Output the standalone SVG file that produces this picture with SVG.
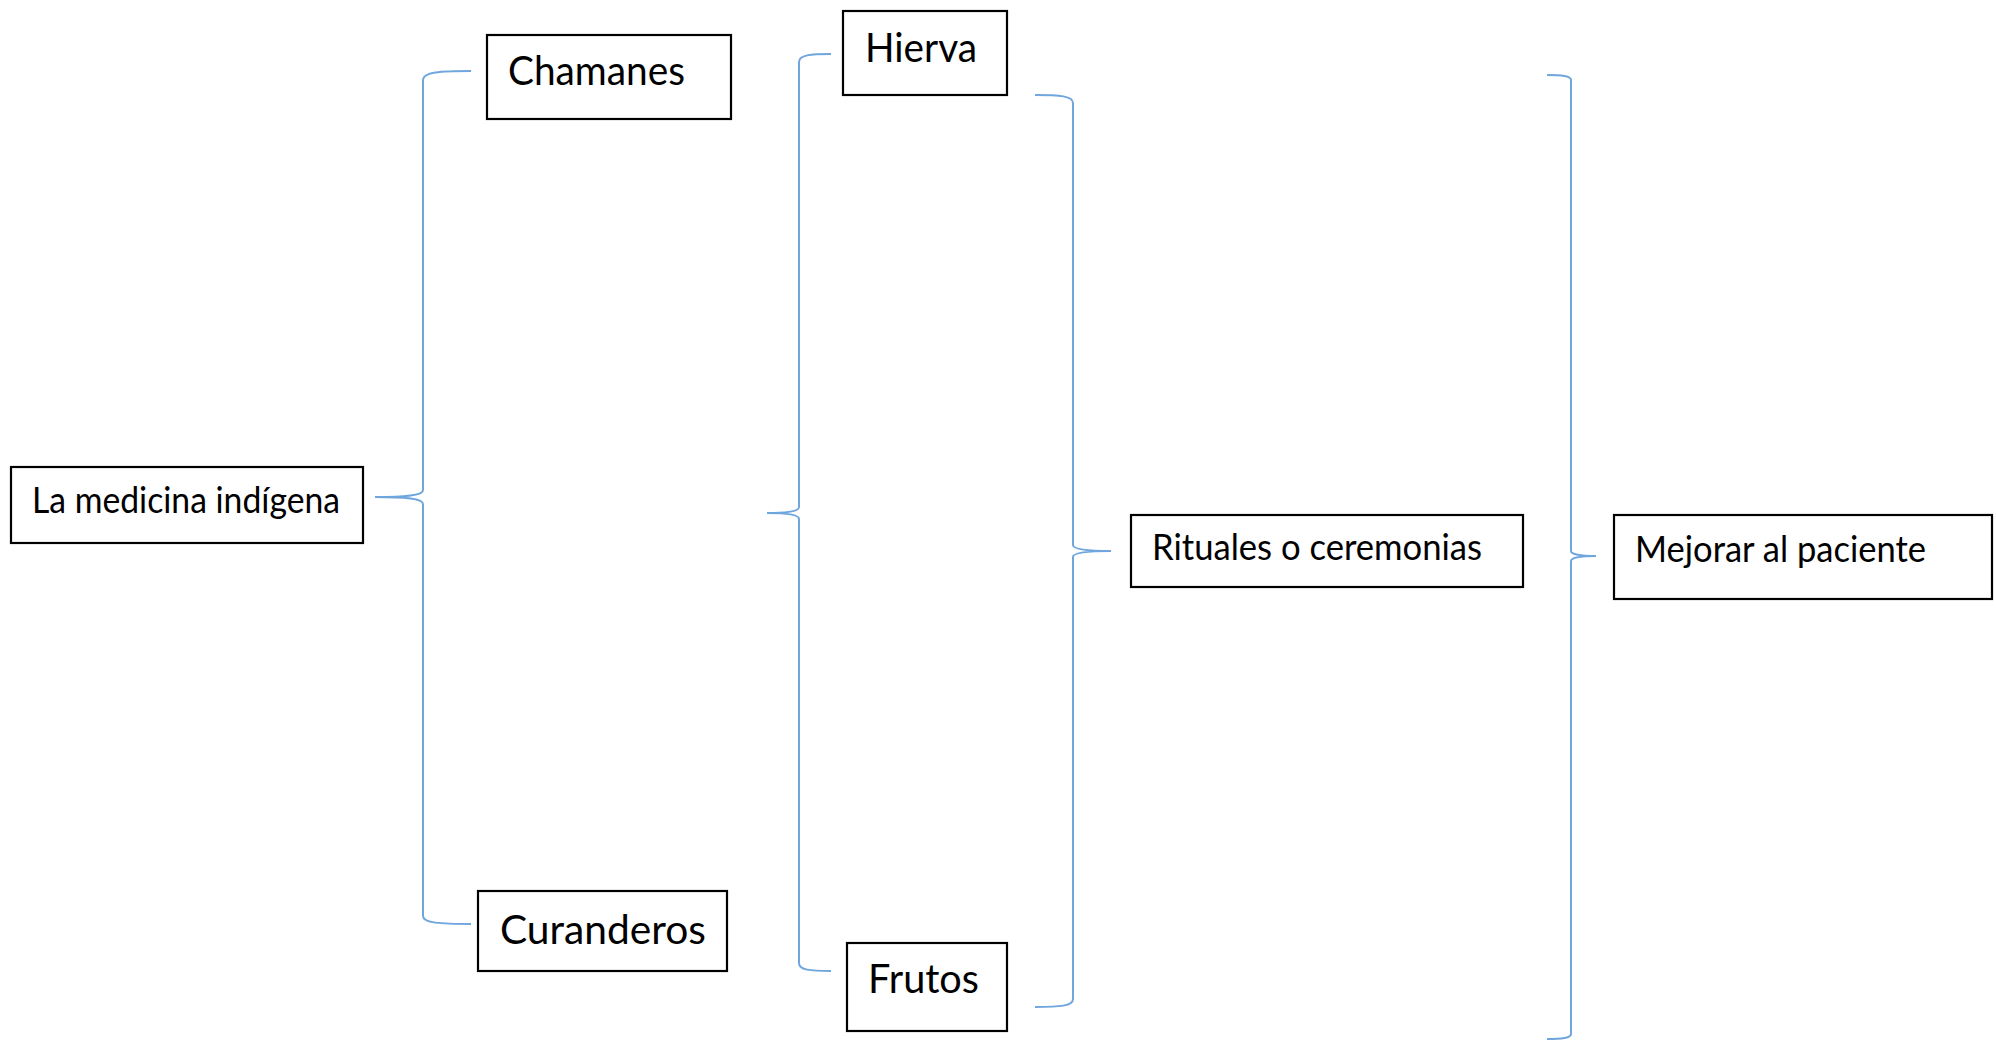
<svg xmlns="http://www.w3.org/2000/svg" width="1996" height="1046" viewBox="0 0 1996 1046">
<style>
.box{fill:#fff;stroke:#000;stroke-width:2.2}
.t{font-family:Lato,"Liberation Sans",sans-serif;fill:#000}
.big{font-size:41px}
.mid{font-size:36px}
.br{fill:none;stroke:#6FA6DE;stroke-width:2}
</style>
<rect width="1996" height="1046" fill="#fff"/>
<g id="connectors">
<path class="br" d="M471,71 C440,71 423,72 423,80 L423,490 C423,495 410,497 375,497 C410,497 423,499 423,504 L423,916 C423,923 440,924 471,924"/>
<path class="br" d="M831,54 C810,54 799,55 799,62 L799,507 C799,511 790,513 767,513 C790,513 799,515 799,519 L799,963 C799,970 810,971 831,971"/>
<path class="br" d="M1035,95 C1060,95 1073,96 1073,103 L1073,545 C1073,549 1085,551 1111,551 C1085,551 1073,553 1073,557 L1073,999 C1073,1006 1060,1007 1035,1007"/>
<path class="br" d="M1547,75 C1562,75 1571,76 1571,80 L1571,551 C1571,554 1580,556 1596,556 C1580,556 1571,558 1571,561 L1571,1034 C1571,1038 1562,1039 1547,1039"/>
</g>
<g id="n-medicina">
<rect class="box" x="11" y="467" width="352" height="76"/>
<text class="t mid" x="32" y="513" textLength="308" lengthAdjust="spacingAndGlyphs">La medicina indígena</text>
</g>
<g id="n-chamanes">
<rect class="box" x="487" y="35" width="244" height="84"/>
<text class="t big" x="508" y="85" textLength="177" lengthAdjust="spacingAndGlyphs">Chamanes</text>
</g>
<g id="n-curanderos">
<rect class="box" x="478" y="891" width="249" height="80"/>
<text class="t big" x="500" y="944" textLength="206" lengthAdjust="spacingAndGlyphs">Curanderos</text>
</g>
<g id="n-hierva">
<rect class="box" x="843" y="11" width="164" height="84"/>
<text class="t big" x="865" y="62" textLength="112" lengthAdjust="spacingAndGlyphs">Hierva</text>
</g>
<g id="n-frutos">
<rect class="box" x="847" y="943" width="160" height="88"/>
<text class="t big" x="868" y="993" textLength="111" lengthAdjust="spacingAndGlyphs">Frutos</text>
</g>
<g id="n-rituales">
<rect class="box" x="1131" y="515" width="392" height="72"/>
<text class="t mid" x="1152" y="560" textLength="330" lengthAdjust="spacingAndGlyphs">Rituales o ceremonias</text>
</g>
<g id="n-mejorar">
<rect class="box" x="1614" y="515" width="378" height="84"/>
<text class="t mid" x="1635" y="562" textLength="291" lengthAdjust="spacingAndGlyphs">Mejorar al paciente</text>
</g>
</svg>
